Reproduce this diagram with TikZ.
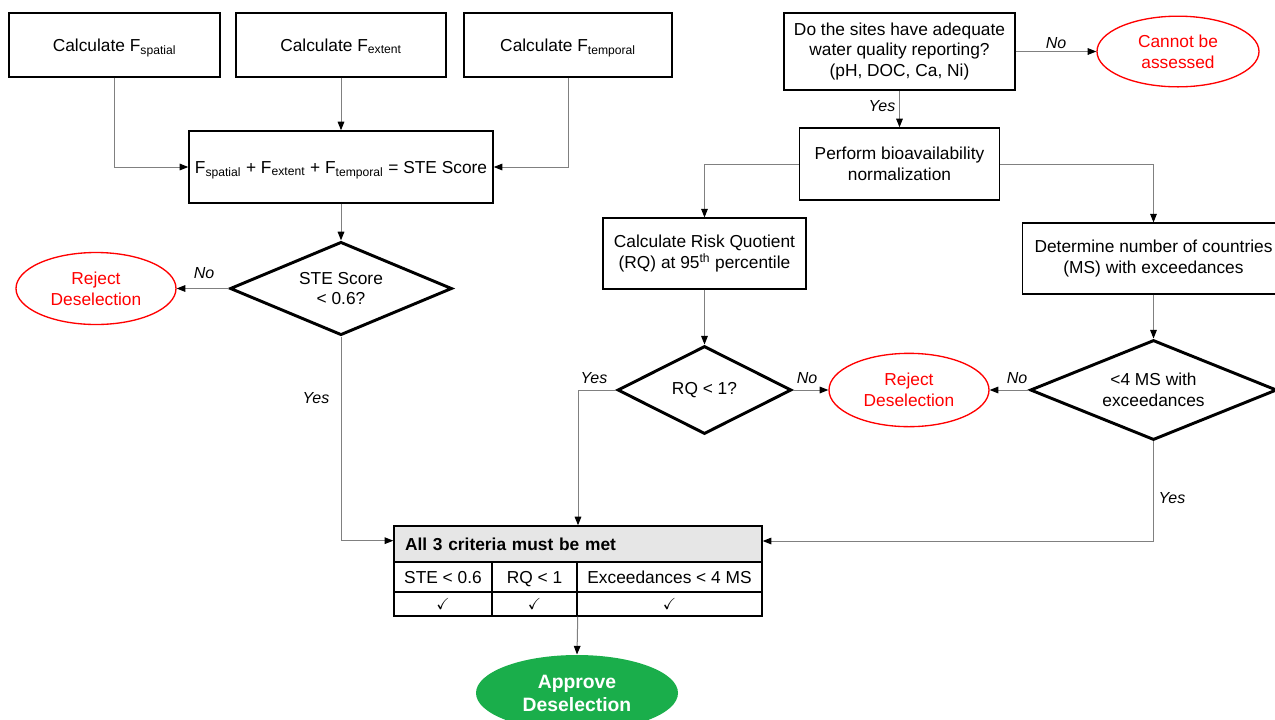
\documentclass[tikz,border=0pt]{standalone}
\usepackage{fontspec}
\setmainfont{Liberation Sans}
\usepackage{amssymb}
\usetikzlibrary{shapes.geometric,arrows.meta}

\definecolor{linegray}{RGB}{128,128,128}
\definecolor{rejectred}{RGB}{255,0,0}
\definecolor{approvegreen}{RGB}{26,174,75}
\definecolor{headgray}{RGB}{230,230,230}

\newcommand{\Fsub}[1]{F\textsubscript{#1}}

\tikzset{every picture/.style={line width=0.75pt}}
\tikzset{
  stepbox/.style={draw, rectangle, line width=1.1pt, inner sep=0pt, align=center},
  decision/.style={draw, diamond, aspect=2.4, line width=2.2pt, inner sep=0pt, align=center},
  reject/.style={draw=rejectred, ellipse, line width=1pt, text=rejectred, inner sep=0pt, align=center},
  cell/.style={draw, rectangle, line width=1.1pt, inner sep=0pt},
  link/.style={draw=linegray, line width=0.75pt, -{Triangle[length=6.5pt,width=5pt,color=black]}},
  answer/.style={font=\fontsize{12}{14}\selectfont\itshape, inner sep=0.75pt},
}

\begin{document}
\begin{tikzpicture}[x=0.75pt,y=0.75pt,yscale=-1,xscale=1,
  every node/.style={font=\fontsize{13}{15.5}\selectfont}]
\useasboundingbox (0,0) rectangle (1275,719);

%Shape: Rectangle [STE factors]
\node (fspa) [stepbox, minimum width=158pt, minimum height=48pt, text depth=0pt] at (114.5,45) {Calculate \Fsub{spatial}};
\node (fext) [stepbox, minimum width=157.5pt, minimum height=48pt, text depth=0pt] at (341,45) {Calculate \Fsub{extent}};
\node (ftem) [stepbox, minimum width=156pt, minimum height=48pt, text depth=0pt] at (568,45) {Calculate \Fsub{temporal}};
%Shape: Rectangle [STE sum]
\node (sum) [stepbox, minimum width=228pt, minimum height=54pt, text depth=0pt] at (341,167) {\Fsub{spatial} + \Fsub{extent} + \Fsub{temporal} = STE Score};
%Shape: Diamond
\node (sted) [decision, minimum width=166.5pt, minimum height=70pt] at (341,288.5) {STE Score\\< 0.6?};
%Shape: Ellipse
\node (rejste) [reject, minimum width=120pt, minimum height=54pt] at (96,288.5) {Reject\\Deselection};

%Shape: Rectangle [water quality]
\node (qual) [stepbox, minimum width=173pt, minimum height=58pt] at (899.5,51.5) {Do the sites have adequate\\water quality reporting?\\(pH, DOC, Ca, Ni)};
\node (cannot) [reject, minimum width=121.5pt, minimum height=53pt] at (1178,51.5) {Cannot be\\assessed};
\node (bio) [stepbox, minimum width=150pt, minimum height=54pt] at (899.5,164) {Perform bioavailability\\normalization};
\node (rq) [stepbox, minimum width=152pt, minimum height=53pt] at (704.5,253.5) {Calculate Risk Quotient\\(RQ) at 95\textsuperscript{th} percentile};
\node (ms) [stepbox, minimum width=196.5pt, minimum height=53pt] at (1153.5,258.5) {Determine number of countries\\(MS) with exceedances};
%Shape: Diamond
\node (rqd) [decision, minimum width=130.5pt, minimum height=66pt] at (704.5,390) {RQ < 1?};
\node (msd) [decision, minimum width=185pt, minimum height=75pt] at (1153.5,390) {<4 MS with\\exceedances};
%Shape: Ellipse
\node (rejmid) [reject, minimum width=120pt, minimum height=55pt] at (909,390) {Reject\\Deselection};

%Shape: Table [criteria]
\node (crithead) [cell, fill=headgray, minimum height=27pt, text width=259.5pt, inner xsep=8.25pt, align=left, font=\fontsize{13}{15.5}\selectfont\bfseries] at (578,544) {All 3 criteria must be met};
\node (c1) [cell, minimum width=73.5pt, minimum height=22.5pt, text height=9.4pt, text depth=0pt] at (443,577) {STE < 0.6};
\node (c2) [cell, minimum width=63.75pt, minimum height=22.5pt, text height=9.4pt, text depth=0pt] at (534.5,577) {RQ < 1};
\node (c3) [cell, minimum width=138.75pt, minimum height=22.5pt, text height=9.4pt, text depth=0pt] at (669.5,577) {Exceedances < 4 MS};
\node (k1) [cell, minimum width=73.5pt, minimum height=18pt, font=\fontsize{12}{14}\selectfont] at (443,604) {$\checkmark$};
\node (k2) [cell, minimum width=63.75pt, minimum height=18pt, font=\fontsize{12}{14}\selectfont] at (534.5,604) {$\checkmark$};
\node (k3) [cell, minimum width=138.75pt, minimum height=18pt, font=\fontsize{12}{14}\selectfont] at (669.5,604) {$\checkmark$};

%Shape: Ellipse [approve]
\node (approve) [ellipse, fill=approvegreen, text=white, inner sep=0pt, align=center, minimum width=151.5pt, minimum height=57pt, font=\fontsize{14.5}{17.25}\selectfont\bfseries] at (577,693) {Approve\\Deselection};

%Straight Lines
\draw [link] (fspa.south) |- (sum.west);
\draw [link] (fext) -- (sum);
\draw [link] (ftem.south) |- (sum.east);
\draw [link] (sum) -- (sted);
\draw [link] (sted.west) -- (rejste.east);
\draw [link] (sted.south) |- ([yshift=-2.5pt]crithead.west);
\draw [link] (qual.east) -- (cannot.west);
\draw [link] (qual) -- (bio);
\draw [link] (bio.west) -| (rq.north);
\draw [link] (bio.east) -| (ms.north);
\draw [link] (rq) -- (rqd);
\draw [link] (ms) -- (msd);
\draw [link] (rqd.east) -- (rejmid.west);
\draw [link] (msd.west) -- (rejmid.east);
\draw [link] (rqd.west) -| (crithead.north);
\draw [link] (msd.south) |- ([yshift=-2.25pt]crithead.east);
\draw [link] (k2.south east) -- (approve.north);

% Text Node
\node (nste) [answer] at (204,273) {No};
\node (yste) [answer] at (316,398) {Yes};
\node (nqual) [answer] at (1056,43) {No};
\node (yqual) [answer] at (882,106) {Yes};
\node (yrq) [answer] at (594,378) {Yes};
\node (nrq) [answer] at (807,378) {No};
\node (nms) [answer] at (1017,378) {No};
\node (yms) [answer] at (1172,498) {Yes};

\end{tikzpicture}
\end{document}
